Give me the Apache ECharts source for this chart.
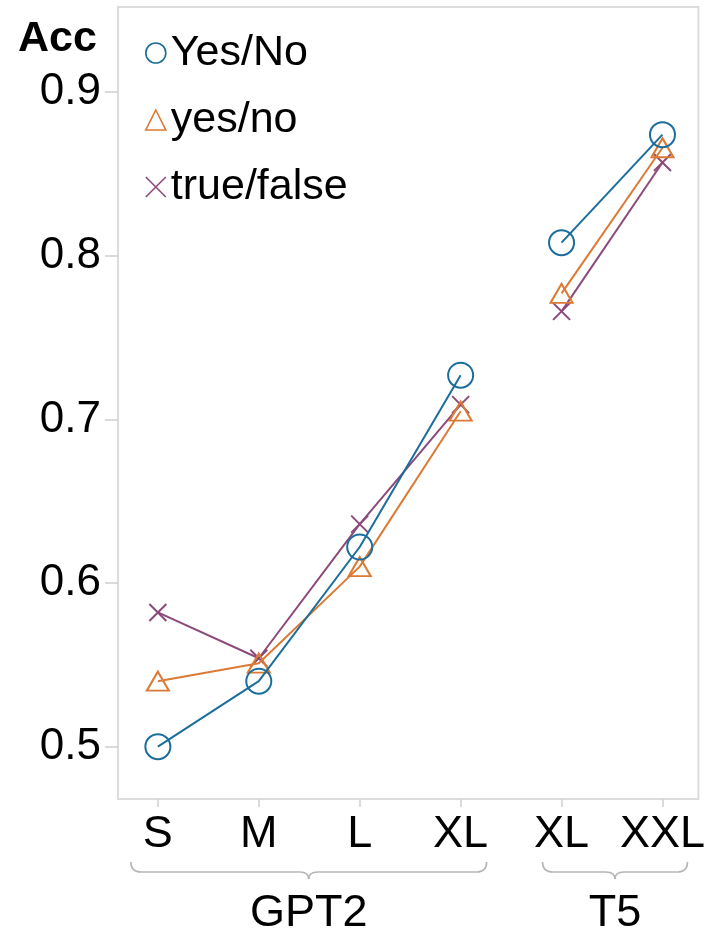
<!DOCTYPE html>
<html>
<head>
<meta charset="utf-8">
<script src="https://cdn.jsdelivr.net/npm/echarts@6/dist/echarts.min.js"></script>
<style>html,body{margin:0;padding:0;background:#fff}#c{width:708px;height:939px}</style>
</head>
<body>
<div id="c"></div>
<script>
// ---- data ----
const modelLabels = ['S', 'M', 'L', 'XL', 'XL', 'XXL'];
const groups = [
  { name: 'GPT2', idx: [0, 1, 2, 3] },
  { name: 'T5', idx: [4, 5] }
];
const yTicks = [0.5, 0.6, 0.7, 0.8, 0.9];
const seriesNames = ['Yes/No', 'yes/no', 'true/false'];
const accYesNoCap = [0.500, 0.540, 0.622, 0.727, 0.808, 0.874];
const accYesNoLow = [0.540, 0.551, 0.610, 0.705, 0.777, 0.866];
const accTrueFalse = [0.582, 0.554, 0.636, 0.709, 0.766, 0.857];

// ---- styles ----
const FONT = '"Liberation Sans", Arial, Helvetica, sans-serif';
const colors = ['#1b6d9c', '#dc7a35', '#8b4a7a'];
const symbols = ['circle', 'triangle', 'path://M0,0L20,20M20,0L0,20'];
const symbolSizes = [25, [22, 19], 17];
const values = [accYesNoCap, accYesNoLow, accTrueFalse];

const series = [];
values.forEach((vals, s) => {
  groups.forEach(g => {
    series.push({
      name: seriesNames[s],
      type: 'line',
      data: g.idx.map(i => [i, vals[i]]),
      symbol: symbols[s],
      symbolSize: symbolSizes[s],
      lineStyle: { color: colors[s], width: 2 },
      itemStyle: { color: 'rgba(0,0,0,0)', borderColor: colors[s], borderWidth: 2 },
      emphasis: { disabled: true },
      silent: true,
      animation: false,
      z: 3 - s
    });
  });
});

const chart = echarts.init(document.getElementById('c'), null, { renderer: 'canvas' });
chart.setOption({
  animation: false,
  title: {
    text: 'Acc', left: 13, top: 13,
    textStyle: { fontFamily: FONT, fontSize: 43, fontWeight: 'bold', color: '#000' }
  },
  grid: {
    left: 118, right: 8, top: 7, bottom: 140,
    show: true, borderColor: '#dcdcdc', borderWidth: 2, backgroundColor: '#fff'
  },
  legend: {
    orient: 'vertical', left: 140, top: 25,
    itemWidth: 20, itemHeight: 20, itemGap: 21, itemTextGap: 17,
    selectedMode: false,
    textStyle: { fontFamily: FONT, fontSize: 43, color: '#000', lineHeight: 46 },
    data: seriesNames.map((n, s) => ({
      name: n,
      icon: symbols[s],
      itemStyle: { color: 'rgba(0,0,0,0)', borderColor: colors[s], borderWidth: 1.6 }
    }))
  },
  xAxis: {
    type: 'value', min: -0.395, max: 5.356,
    axisLine: { show: false, onZero: false },
    splitLine: { show: false },
    axisTick: { show: true, length: 8, lineStyle: { color: '#cfcfcf', width: 1.5 }, customValues: [0, 1, 2, 3, 4, 5] },
    axisLabel: {
      customValues: [0, 1, 2, 3, 4, 5],
      formatter: v => modelLabels[Math.round(v)],
      fontFamily: FONT, fontSize: 45, color: '#000', margin: 13
    }
  },
  yAxis: {
    type: 'value', min: 0.468, max: 0.952,
    axisLine: { show: false, onZero: false },
    splitLine: { show: false },
    axisTick: { show: true, length: 13, lineStyle: { color: '#cfcfcf', width: 1.5 }, customValues: yTicks },
    axisLabel: {
      customValues: yTicks,
      formatter: v => v.toFixed(1),
      fontFamily: FONT, fontSize: 44, color: '#000', margin: 17
    }
  },
  series: series
});

// group braces and labels under the axis
const px = v => chart.convertToPixel({ xAxisIndex: 0 }, v);
const bracePad = [[27, 26], [19, 25]];
const yTop = 862, yLine = 872, yTip = 879;
const braceStyle = { fill: null, stroke: '#b5b5b5', lineWidth: 1.6 };
const graphics = [];
groups.forEach((g, k) => {
  const x1 = px(g.idx[0]) - bracePad[k][0];
  const x2 = px(g.idx[g.idx.length - 1]) + bracePad[k][1];
  const mid = (x1 + x2) / 2;
  const parts = [
    { type: 'bezierCurve', shape: { x1: x1, y1: yTop, cpx1: x1, cpy1: yLine, x2: x1 + 10, y2: yLine } },
    { type: 'line', shape: { x1: x1 + 10, y1: yLine, x2: mid - 9, y2: yLine } },
    { type: 'bezierCurve', shape: { x1: mid - 9, y1: yLine, cpx1: mid, cpy1: yLine, x2: mid, y2: yTip } },
    { type: 'bezierCurve', shape: { x1: mid, y1: yTip, cpx1: mid, cpy1: yLine, x2: mid + 9, y2: yLine } },
    { type: 'line', shape: { x1: mid + 9, y1: yLine, x2: x2 - 10, y2: yLine } },
    { type: 'bezierCurve', shape: { x1: x2 - 10, y1: yLine, cpx1: x2, cpy1: yLine, x2: x2, y2: yTop } }
  ];
  parts.forEach(p => { p.style = braceStyle; p.silent = true; graphics.push(p); });
  graphics.push({
    type: 'text', x: mid, y: 914,
    style: { text: g.name, fontFamily: FONT, fontSize: 45, fill: '#000', align: 'center', verticalAlign: 'middle' },
    silent: true
  });
});
chart.setOption({ graphic: graphics });
</script>
</body>
</html>
